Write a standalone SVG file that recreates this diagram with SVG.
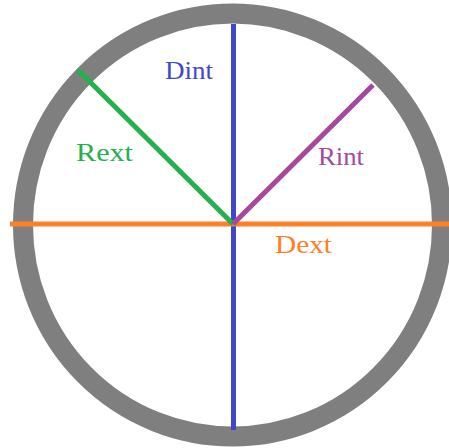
<svg xmlns="http://www.w3.org/2000/svg" width="449" height="448" viewBox="0 0 449 448">
<style>
.lbl{font-family:"Liberation Serif","Times New Roman",serif;font-size:26px}
.ln{stroke-width:5;fill:none}
</style>
<rect width="449" height="448" fill="#ffffff"/>
<g id="ring">
<ellipse cx="232.5" cy="225" rx="209.5" ry="211.5" fill="none" stroke="#7f7f7f" stroke-width="20"/>
</g>
<g id="connectors">
<line class="ln" x1="233.5" y1="24" x2="233.5" y2="430" stroke="#3f48cc"/>
<line class="ln" x1="10" y1="224" x2="449" y2="224" stroke="#ff7f27"/>
<line class="ln" x1="78" y1="70" x2="233" y2="224" stroke="#22b14c"/>
<line class="ln" x1="373" y1="85" x2="233" y2="224" stroke="#a349a4"/>
</g>
<g id="dint"><text class="lbl" x="165" y="79" fill="#3f48cc" textLength="48" lengthAdjust="spacingAndGlyphs">Dint</text></g>
<g id="rext"><text class="lbl" x="76" y="161" fill="#22b14c" textLength="57" lengthAdjust="spacingAndGlyphs">Rext</text></g>
<g id="rint"><text class="lbl" x="318" y="165" fill="#a349a4" textLength="46" lengthAdjust="spacingAndGlyphs">Rint</text></g>
<g id="dext"><text class="lbl" x="275" y="253" fill="#ff7f27" textLength="57" lengthAdjust="spacingAndGlyphs">Dext</text></g>
</svg>
